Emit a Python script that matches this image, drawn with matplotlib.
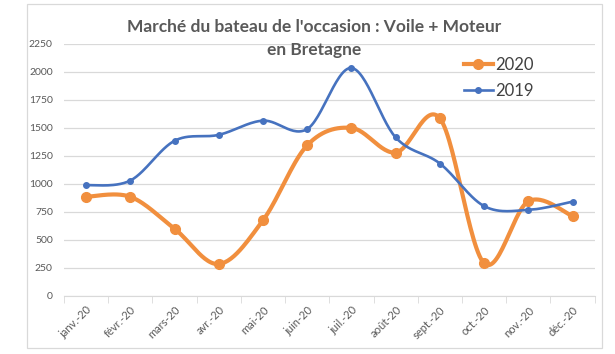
import numpy as np
import matplotlib
matplotlib.use("Agg")
from matplotlib import pyplot as plt

plt.rcParams["font.family"] = ["Lato", "DejaVu Sans"]

# data
mois = ["janv.-20", "févr.-20", "mars-20", "avr.-20", "mai-20", "juin-20",
        "juil.-20", "août-20", "sept.-20", "oct.-20", "nov.-20", "déc.-20"]
ventes_2020 = [885, 885, 600, 285, 675, 1345, 1500, 1280, 1585, 292, 845, 712]
ventes_2019 = [988, 1030, 1385, 1438, 1565, 1490, 2035, 1415, 1182, 802, 768, 842]

ORANGE = "#F18F3E"
BLEU = "#4672BF"
GRIS = "#595959"


def lisse(xs, ys, n=30):
    # excel-like smoothed line: bezier segments with catmull-rom handles
    p = np.column_stack([xs, ys]).astype(float)
    ext = np.vstack([p[0], p, p[-1]])
    t = np.linspace(0, 1, n)[:, None]
    out = []
    for i in range(len(p) - 1):
        p0, p1 = ext[i + 1], ext[i + 2]
        c0 = p0 + (ext[i + 2] - ext[i]) / 6
        c1 = p1 - (ext[i + 3] - ext[i + 1]) / 6
        seg = ((1 - t) ** 3) * p0 + 3 * ((1 - t) ** 2) * t * c0 + 3 * (1 - t) * t ** 2 * c1 + t ** 3 * p1
        out.append(seg if i == 0 else seg[1:])
    out = np.vstack(out)
    return out[:, 0], out[:, 1]


fig = plt.figure(figsize=(6.15, 3.54), dpi=100)
ax = fig.add_axes([0.104, 0.164, 0.863, 0.712])

x = np.arange(len(mois))

sx, sy = lisse(x, ventes_2020)
ax.plot(sx, sy, color=ORANGE, lw=3.0, solid_capstyle="round", zorder=3)
ax.plot(x, ventes_2020, "o", color=ORANGE, ms=7, zorder=3)

sx, sy = lisse(x, ventes_2019)
ax.plot(sx, sy, color=BLEU, lw=1.9, solid_capstyle="round", zorder=4)
ax.plot(x, ventes_2019, "o", color=BLEU, ms=4, zorder=4)

ax.set_xlim(-0.5, len(mois) - 0.5)
ax.set_ylim(0, 2250)
ax.set_yticks(np.arange(0, 2251, 250))
ax.set_xticks(x)
ax.set_xticklabels(mois, rotation=45, ha="right", rotation_mode="anchor")
ax.set_xticks(np.arange(-0.5, len(mois), 1), minor=True)

ax.grid(axis="y", color="#D9D9D9", lw=0.9)
ax.set_axisbelow(True)
for s in ["top", "right", "left"]:
    ax.spines[s].set_visible(False)
ax.spines["bottom"].set_color("#D9D9D9")
ax.tick_params(axis="y", length=0, labelsize=7.5, labelcolor=GRIS, pad=8)
ax.tick_params(axis="x", which="major", length=0, labelsize=8, labelcolor=GRIS, pad=6)
ax.tick_params(axis="x", which="minor", length=5, color="#D9D9D9")

fig.text(0.51, 0.925, "Marché du bateau de l'occasion : Voile + Moteur",
         ha="center", va="center", fontsize=12.5, fontweight="bold", color=GRIS)
fig.text(0.51, 0.86, "en Bretagne",
         ha="center", va="center", fontsize=12.5, fontweight="bold", color=GRIS)

h1, = ax.plot([], [], "-o", color=ORANGE, lw=3.0, ms=7)
h2, = ax.plot([], [], "-o", color=BLEU, lw=1.9, ms=4)
leg = ax.legend([h1, h2], ["2020", "2019"], loc="upper left", bbox_to_anchor=(0.725, 1.008),
                frameon=False, fontsize=12, handlelength=1.75, handletextpad=0.15,
                labelspacing=0.6)
for t in leg.get_texts():
    t.set_color("#404040")

# chart frame
fig.patches.append(plt.Rectangle((0.044, 0.017), 0.935, 0.973, transform=fig.transFigure,
                                 fill=False, ec="#D9D9D9", lw=0.9))

fig.savefig("out.png", dpi=100)
